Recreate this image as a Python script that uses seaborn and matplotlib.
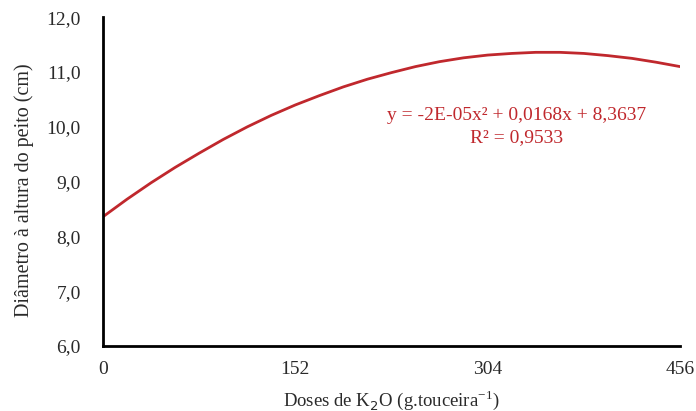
import matplotlib
matplotlib.use("Agg")
import matplotlib.pyplot as plt
import seaborn as sns
import pandas as pd

# Data
doses = [0, 19, 38, 57, 76, 95, 114, 133, 152, 171, 190, 209, 228,
         247, 266, 285, 304, 323, 342, 361, 380, 399, 418, 437, 456]
diametro = [8.36, 8.68, 8.98, 9.26, 9.52, 9.77, 10.00, 10.21, 10.40, 10.57, 10.73, 10.87, 10.99,
            11.10, 11.19, 11.26, 11.31, 11.34, 11.36, 11.36, 11.34, 11.30, 11.25, 11.18, 11.10]
x_ticks = [0, 152, 304, 456]
y_ticks = [6.0, 7.0, 8.0, 9.0, 10.0, 11.0, 12.0]
eq_text = "y = -2E-05x² + 0,0168x + 8,3637"
r2_text = "R² = 0,9533"

sns.set_theme(style="white")
plt.rcParams['font.family'] = ['Liberation Serif', 'DejaVu Serif']

df = pd.DataFrame({"dose": doses, "diam": diametro})
red = "#C0282D"
txt = "#2a2a2a"

fig = plt.figure(figsize=(6.96, 4.11), dpi=100)
ax = fig.add_axes([0.148, 0.158, 0.829, 0.800])
sns.lineplot(data=df, x="dose", y="diam", ax=ax, color=red, linewidth=2.0)

ax.set_xlim(0, 456)
ax.set_ylim(6.0, 12.0)
ax.set_xticks(x_ticks)
ax.set_xticklabels([str(t) for t in x_ticks], fontsize=14)
ax.set_yticks(y_ticks)
ax.set_yticklabels([f"{t:.1f}".replace(".", ",") for t in y_ticks], fontsize=14)
ax.tick_params(axis="x", length=0, pad=11, colors=txt)
ax.tick_params(axis="y", length=0, pad=16, colors=txt)

for s in ["top", "right"]:
    ax.spines[s].set_visible(False)
for s in ["left", "bottom"]:
    ax.spines[s].set_color("black")
    ax.spines[s].set_linewidth(2.0)

ax.set_xlabel("Doses de K$_2$O (g.touceira$^{\\mathdefault{-1}}$)", fontsize=13.5, color=txt)
ax.set_ylabel("Diâmetro à altura do peito (cm)", fontsize=14.5, color=txt)
ax.xaxis.set_label_coords(0.5, -0.128)
ax.yaxis.set_label_coords(-0.120, 0.474)

ax.text(0.716, 0.702, eq_text, transform=ax.transAxes, ha="center", va="center",
        fontsize=14, color=red)
ax.text(0.716, 0.635, r2_text, transform=ax.transAxes, ha="center", va="center",
        fontsize=14, color=red)

fig.savefig("out.png", dpi=100)
